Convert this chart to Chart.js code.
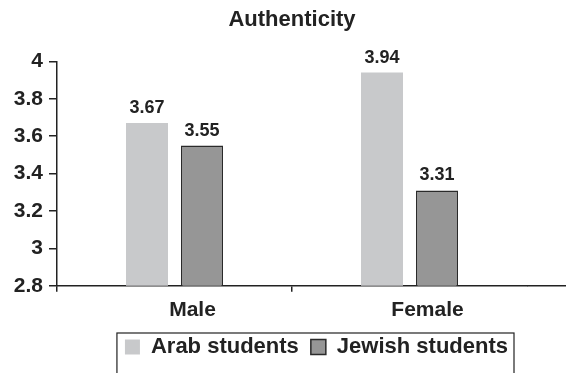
<!DOCTYPE html>
<html>
<head>
<meta charset="utf-8">
<script src="https://cdn.jsdelivr.net/npm/chart.js@4/dist/chart.umd.min.js"></script>
<style>
  html, body { margin: 0; padding: 0; background: #fff; }
  #wrap { width: 566px; height: 373px; }
</style>
</head>
<body>
<div id="wrap"><canvas id="authenticity_chart" width="566" height="373"></canvas></div>
<script>
const categories = ['Male', 'Female'];
const arab_values = [3.67, 3.94];
const jewish_values = [3.55, 3.31];
const series_labels = ['Arab students', 'Jewish students'];
const y_ticks = [2.8, 3, 3.2, 3.4, 3.6, 3.8, 4];

const font_family = '"Liberation Sans", Arial, Helvetica, sans-serif';
const text_colour = '#222';

// values printed over each bar
const valueLabels = {
    id: 'valueLabels',
    afterDatasetsDraw(chart) {
        const ctx = chart.ctx;
        ctx.save();
        ctx.font = 'bold 18px ' + font_family;
        ctx.fillStyle = text_colour;
        ctx.textAlign = 'center';
        ctx.textBaseline = 'bottom';
        chart.data.datasets.forEach((ds, i) => {
            chart.getDatasetMeta(i).data.forEach((bar, j) => {
                ctx.fillText(ds.data[j].toFixed(2), bar.x, bar.y - 6);
            });
        });
        ctx.restore();
    }
};

// excel-ish extras: x axis runs to the edge, legend sits in a box
const chartExtras = {
    id: 'chartExtras',
    afterLayout(chart) {
        // nudge the legend a little to the left and up
        chart.legend.left -= 7;
        chart.legend.right -= 7;
        chart.legend.top -= 5;
        chart.legend.bottom -= 5;
    },
    afterDraw(chart) {
        const ctx = chart.ctx;
        const xs = chart.scales.x;
        ctx.save();
        ctx.strokeStyle = '#222';
        ctx.lineWidth = 1.5;
        ctx.beginPath();
        ctx.moveTo(chart.chartArea.right, xs.top);
        ctx.lineTo(chart.width, xs.top);
        ctx.stroke();

        const boxes = chart.legend.legendHitBoxes;
        if (boxes && boxes.length) {
            const first = boxes[0];
            const last = boxes[boxes.length - 1];
            const left = first.left - 8;
            const right = last.left + last.width + 6;
            const top = first.top - 3;
            ctx.lineWidth = 1.2;
            ctx.strokeRect(left, top, right - left, chart.height - top + 5);
        }
        ctx.restore();
    }
};

const chartdata = {
    labels: categories,
    datasets: [
        {
            label: series_labels[0],
            data: arab_values,
            backgroundColor: '#c8c9cb',
            borderColor: '#c8c9cb',
            borderWidth: 0,
            categoryPercentage: 0.468,
            barPercentage: 0.764
        },
        {
            label: series_labels[1],
            data: jewish_values,
            backgroundColor: '#969696',
            borderColor: '#2a2a2a',
            borderWidth: 1.5,
            categoryPercentage: 0.468,
            barPercentage: 0.764
        }
    ]
};

const chart_options = {
    responsive: false,
    animation: false,
    layout: { padding: { left: 0, right: 39, top: 0, bottom: 0 } },
    scales: {
        x: {
            grid: {
                display: true,
                offset: true,
                drawOnChartArea: false,
                drawTicks: true,
                tickLength: 6,
                color: '#222',
                tickColor: c => (c.type === 'tick' ? '#222' : 'rgba(0,0,0,0)'),
                lineWidth: 1.5
            },
            border: { display: true, color: '#222', width: 1.5 },
            ticks: {
                color: text_colour,
                font: { family: font_family, size: 21, weight: 'bold' },
                padding: 6,
                labelOffset: 18
            }
        },
        y: {
            min: 2.8,
            max: 4,
            afterBuildTicks(scale) {
                scale.ticks = y_ticks.map(v => ({ value: v }));
            },
            afterFit(scale) {
                scale.width = 57;
            },
            grid: {
                display: true,
                drawOnChartArea: false,
                drawTicks: true,
                tickLength: 8,
                color: '#222',
                lineWidth: 1.5
            },
            border: { display: true, color: '#222', width: 1.5 },
            ticks: {
                color: text_colour,
                font: { family: font_family, size: 21, weight: 'bold' },
                padding: 6,
                callback: v => String(Math.round(v * 10) / 10)
            }
        }
    },
    plugins: {
        title: {
            display: true,
            text: 'Authenticity',
            fullSize: false,
            color: text_colour,
            font: { family: font_family, size: 22, weight: 'bold' },
            padding: { top: 7, bottom: 28 }
        },
        legend: {
            display: true,
            position: 'bottom',
            align: 'end',
            fullSize: false,
            labels: {
                color: text_colour,
                font: { family: font_family, size: 22, weight: 'bold' },
                boxWidth: 15,
                boxHeight: 15,
                padding: 12
            }
        },
        tooltip: { enabled: false }
    }
};

var canvas = document.getElementById('authenticity_chart');
var chart = new Chart(canvas, {
    type: 'bar',
    data: chartdata,
    options: chart_options,
    plugins: [valueLabels, chartExtras]
});
</script>
</body>
</html>
